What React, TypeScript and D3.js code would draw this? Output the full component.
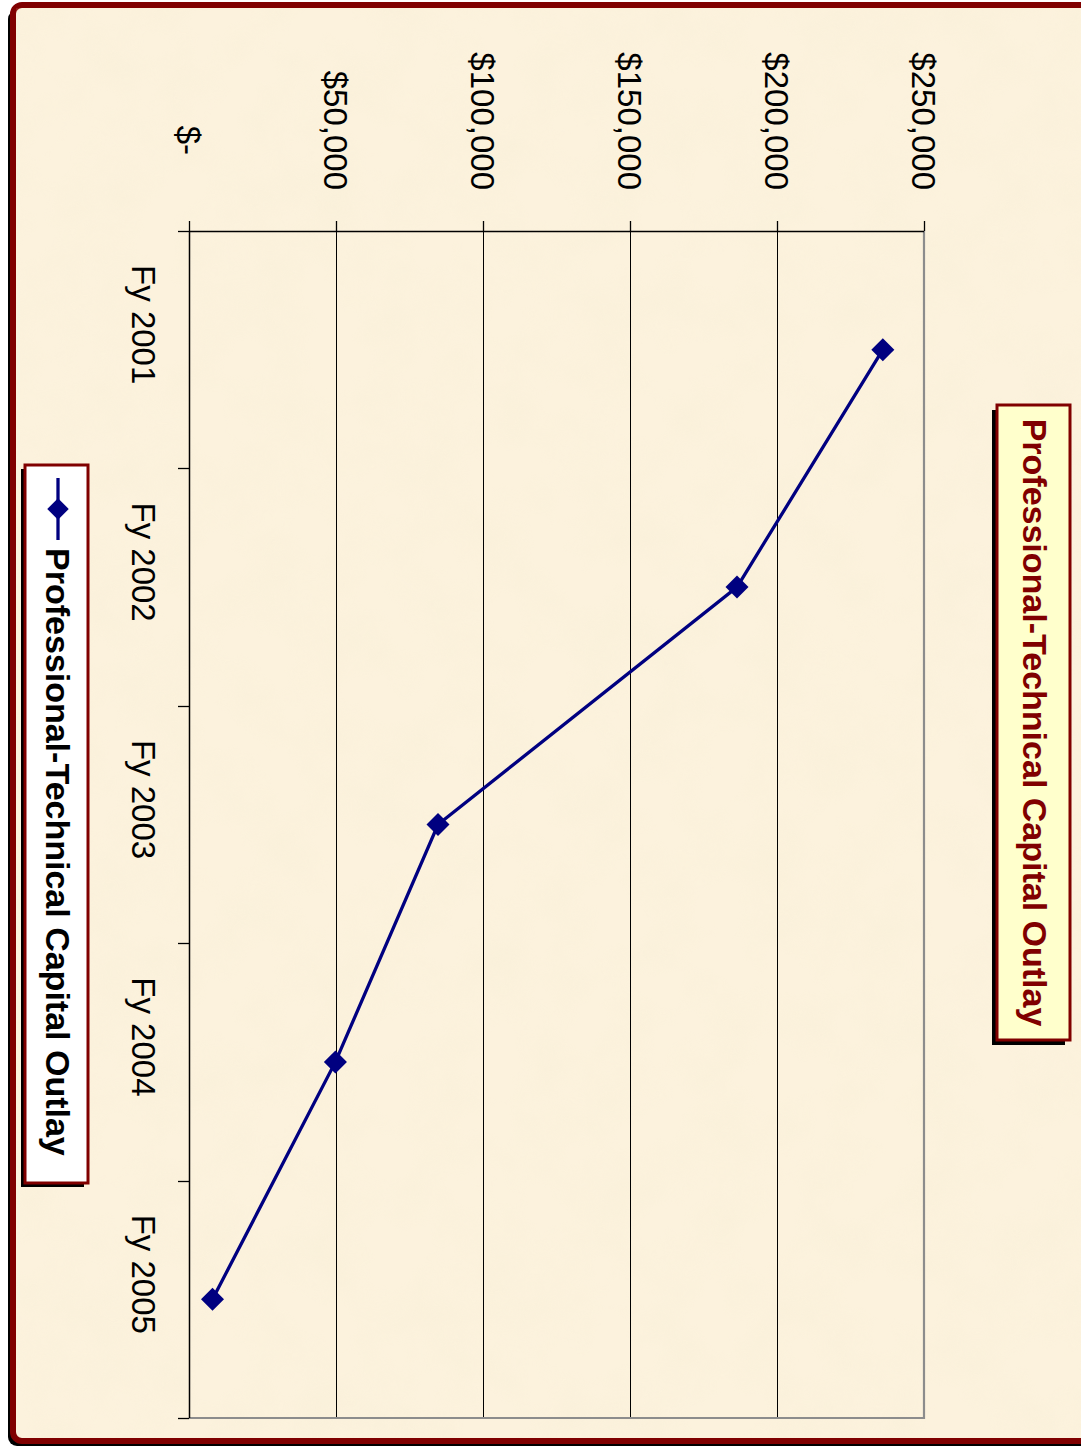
import React from "react";
import * as d3 from "d3";

const categories = ["Fy 2001", "Fy 2002", "Fy 2003", "Fy 2004", "Fy 2005"];
const outlay = [236000, 186400, 84700, 49800, 8000];
const valueTicks = [0, 50000, 100000, 150000, 200000, 250000];
const chartTitle = "Professional-Technical Capital Outlay";
const seriesName = "Professional-Technical Capital Outlay";

const W = 1081;
const H = 1446;
const FONT = "'Liberation Sans', Arial, Helvetica, sans-serif";
const DARKRED = "#800000";
const NAVY = "#000080";

const fmt = (v: number) => (v === 0 ? "$-" : "$" + d3.format(",")(v));

export default function App() {
  const plot = { left: 231, right: 1418, top: 157, bottom: 892 };
  const x = d3.scaleBand<string>().domain(categories).range([plot.left, plot.right]).paddingInner(0).paddingOuter(0);
  const y = d3.scaleLinear().domain([0, 250000]).range([plot.bottom, plot.top]);
  const cx = (c: string) => (x(c) as number) + x.bandwidth() / 2;
  const gy = (t: number) => Math.round(y(t)) - 0.5;
  const data = categories.map((c, i) => ({ c, v: outlay[i] }));
  const line = d3.line<{ c: string; v: number }>().x((d) => cx(d.c)).y((d) => y(d.v));
  const diamond = d3.symbol().type(d3.symbolSquare).size(265)();
  const legendDiamond = d3.symbol().type(d3.symbolSquare).size(230)();
  const catTicks = [...categories.map((c) => Math.round(x(c) as number) + 0.5), plot.right + 0.5];

  return (
    <svg
      width={W}
      height={H}
      viewBox={`0 0 ${W} ${H}`}
      style={{ position: "absolute", left: 0, top: 0, display: "block", background: "#ffffff" }}
    >
      <defs>
        <filter id="parch" x="0" y="0" width="100%" height="100%">
          <feTurbulence type="fractalNoise" baseFrequency="0.018" numOctaves="3" seed="7" />
          <feColorMatrix
            type="matrix"
            values="0 0 0 0 0.93  0 0 0 0 0.86  0 0 0 0 0.68  1.1 0 0 0 -0.42"
          />
        </filter>
      </defs>
      <g transform={`translate(${W},0) rotate(90)`}>
        {/* outer frame shadow */}
        <rect x={10} y={-20} width={1436} height={1093} rx={9} fill="#000" />
        {/* outer frame */}
        <rect x={5} y={-20} width={1436} height={1088} rx={9} fill="#FCF2DD" stroke={DARKRED} strokeWidth={6} />
        <rect x={8} y={-20} width={1430} height={1085} fill="#FCF2DD" filter="url(#parch)" opacity={0.7} />

        {/* gridlines */}
        {valueTicks.map((t) => (
          <line key={"g" + t} x1={plot.left - 10} x2={plot.right} y1={gy(t)} y2={gy(t)} stroke="#000" strokeWidth={1} />
        ))}
        {/* plot area border (top & right) */}
        <polyline
          points={`${plot.left},${plot.top} ${plot.right},${plot.top} ${plot.right},${plot.bottom}`}
          fill="none"
          stroke="#8c8c8c"
          strokeWidth={2.2}
        />
        {/* value axis */}
        <line x1={plot.left + 0.5} x2={plot.left + 0.5} y1={plot.top} y2={plot.bottom} stroke="#000" strokeWidth={1.5} />
        {valueTicks.map((t) => (
          <line key={"vt" + t} x1={plot.left - 10} x2={plot.left} y1={gy(t)} y2={gy(t)} stroke="#000" strokeWidth={1.3} />
        ))}
        {/* category axis */}
        <line x1={plot.left} x2={plot.right} y1={plot.bottom - 0.5} y2={plot.bottom - 0.5} stroke="#000" strokeWidth={1.5} />
        {catTicks.map((p, i) => (
          <line key={"ct" + i} x1={p} x2={p} y1={plot.bottom} y2={plot.bottom + 11} stroke="#000" strokeWidth={1.3} />
        ))}

        {/* value labels */}
        {valueTicks.map((t) => (
          <text
            key={"vl" + t}
            x={190}
            dx={t === 0 ? -35 : 0}
            y={y(t)}
            dy="0.36em"
            textAnchor="end"
            fontFamily={FONT}
            fontSize={33}
            fill="#000"
          >
            {fmt(t)}
          </text>
        ))}
        {/* category labels */}
        {categories.map((c) => (
          <text
            key={"cl" + c}
            x={cx(c)}
            dx={-25}
            y={949}
            textAnchor="middle"
            fontFamily={FONT}
            fontSize={33}
            fill="#000"
          >
            {c}
          </text>
        ))}

        {/* series */}
        <path d={line(data) || ""} fill="none" stroke={NAVY} strokeWidth={3.3} />
        {data.map((d) => (
          <path
            key={"m" + d.c}
            d={diamond || ""}
            transform={`translate(${cx(d.c)},${y(d.v)}) rotate(45)`}
            fill={NAVY}
          />
        ))}

        {/* title */}
        <rect x={410} y={16} width={635} height={73} fill="#000" />
        <rect x={405} y={11} width={635} height={73} fill="#FFFFCC" stroke={DARKRED} strokeWidth={3} />
        <text
          x={722.5}
          y={58}
          textAnchor="middle"
          fontFamily={FONT}
          fontSize={34}
          fontWeight="bold"
          fill={DARKRED}
        >
          {chartTitle}
        </text>

        {/* legend */}
        <rect x={469} y={997} width={718} height={63} fill="#000" />
        <rect x={465} y={993} width={718} height={63} fill="#FFFFFF" stroke={DARKRED} strokeWidth={3} />
        <line x1={478} x2={540} y1={1023} y2={1023} stroke={NAVY} strokeWidth={3.3} />
        <path d={legendDiamond || ""} transform={`translate(509,1023) rotate(45)`} fill={NAVY} />
        <text x={548} y={1035} fontFamily={FONT} fontSize={34} fontWeight="bold" fill="#000">
          {seriesName}
        </text>
      </g>
    </svg>
  );
}
